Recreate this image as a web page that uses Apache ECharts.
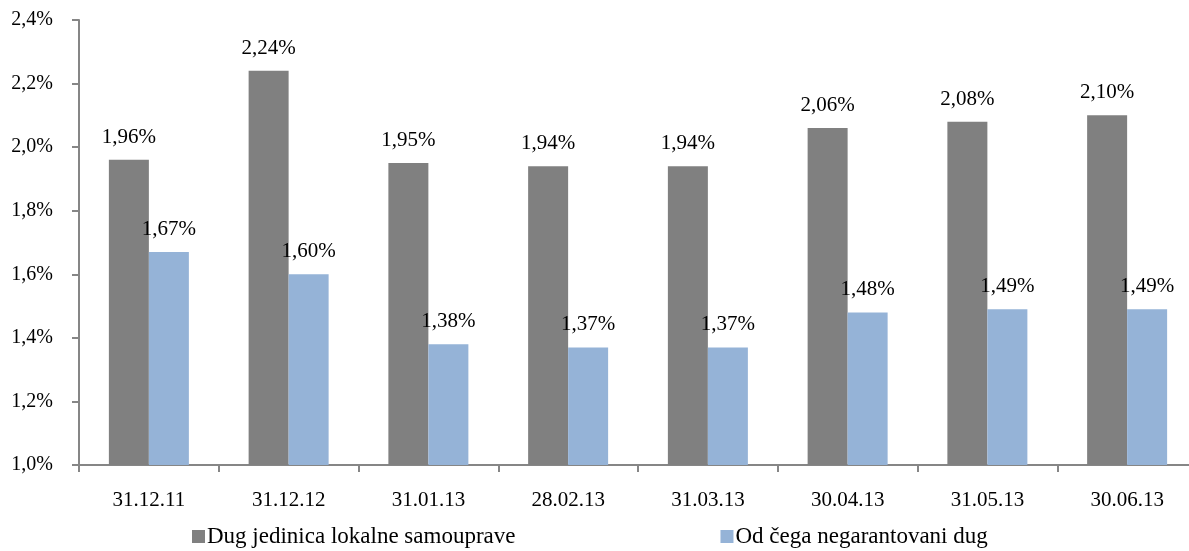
<!DOCTYPE html>
<html><head><meta charset="utf-8">
<script src="https://cdn.jsdelivr.net/npm/echarts@6/dist/echarts.min.js"></script>
<style>html,body{margin:0;padding:0;background:#fff;overflow:hidden;width:1189px;height:551px}#c{width:1200px;height:551px}</style>
</head><body><div id="c"></div>
<script>
const categories = ['31.12.11','31.12.12','31.01.13','28.02.13','31.03.13','30.04.13','31.05.13','30.06.13'];
const seriesNames = ['Dug jedinica lokalne samouprave','Od čega negarantovani dug'];
const totalDebt = [1.96, 2.24, 1.95, 1.94, 1.94, 2.06, 2.08, 2.10];
const nonGuaranteed = [1.67, 1.60, 1.38, 1.37, 1.37, 1.48, 1.49, 1.49];
const yTicks = [1.0, 1.2, 1.4, 1.6, 1.8, 2.0, 2.2, 2.4];

const font = '"Liberation Serif", "Times New Roman", serif';
const fmt = v => v.toFixed(2).replace('.', ',') + '%';
const chart = echarts.init(document.getElementById('c'));
const labelCfg = {
  show: true, position: 'top', distance: 12,
  color: '#000', fontFamily: font, fontSize: 21,
  formatter: p => fmt(p.value)
};
chart.setOption({
  animation: false,
  grid: { left: 79, right: 3, top: 20, bottom: 86, containLabel: false },
  legend: {
    bottom: 3, left: 192, padding: 0, itemGap: 205, itemWidth: 13, itemHeight: 13, icon: 'rect',
    textStyle: { fontFamily: font, fontSize: 23, color: '#000', padding: [0, 0, 0, -3] },
    data: seriesNames
  },
  xAxis: {
    type: 'category', data: categories,
    axisLine: { lineStyle: { color: '#868686', width: 2 } },
    axisTick: { show: true, length: 7, alignWithLabel: false, lineStyle: { color: '#868686', width: 2 } },
    axisLabel: { color: '#000', fontFamily: font, fontSize: 21, margin: 25 }
  },
  yAxis: {
    type: 'value', min: yTicks[0], max: yTicks[yTicks.length - 1], interval: 0.2,
    splitLine: { show: false },
    axisLine: { show: true, lineStyle: { color: '#868686', width: 2 } },
    axisTick: { show: true, length: 7, lineStyle: { color: '#868686', width: 2 } },
    axisLabel: { color: '#000', fontFamily: font, fontSize: 20, margin: 26,
      formatter: v => v.toFixed(1).replace('.', ',') + '%' }
  },
  series: [
    { name: seriesNames[0], type: 'bar', data: totalDebt, barWidth: 40, barGap: '0%',
      itemStyle: { color: '#808080' }, label: labelCfg },
    { name: seriesNames[1], type: 'bar', data: nonGuaranteed, barWidth: 40, barGap: '0%',
      itemStyle: { color: '#95b3d7' }, label: labelCfg }
  ]
});
</script></body></html>
